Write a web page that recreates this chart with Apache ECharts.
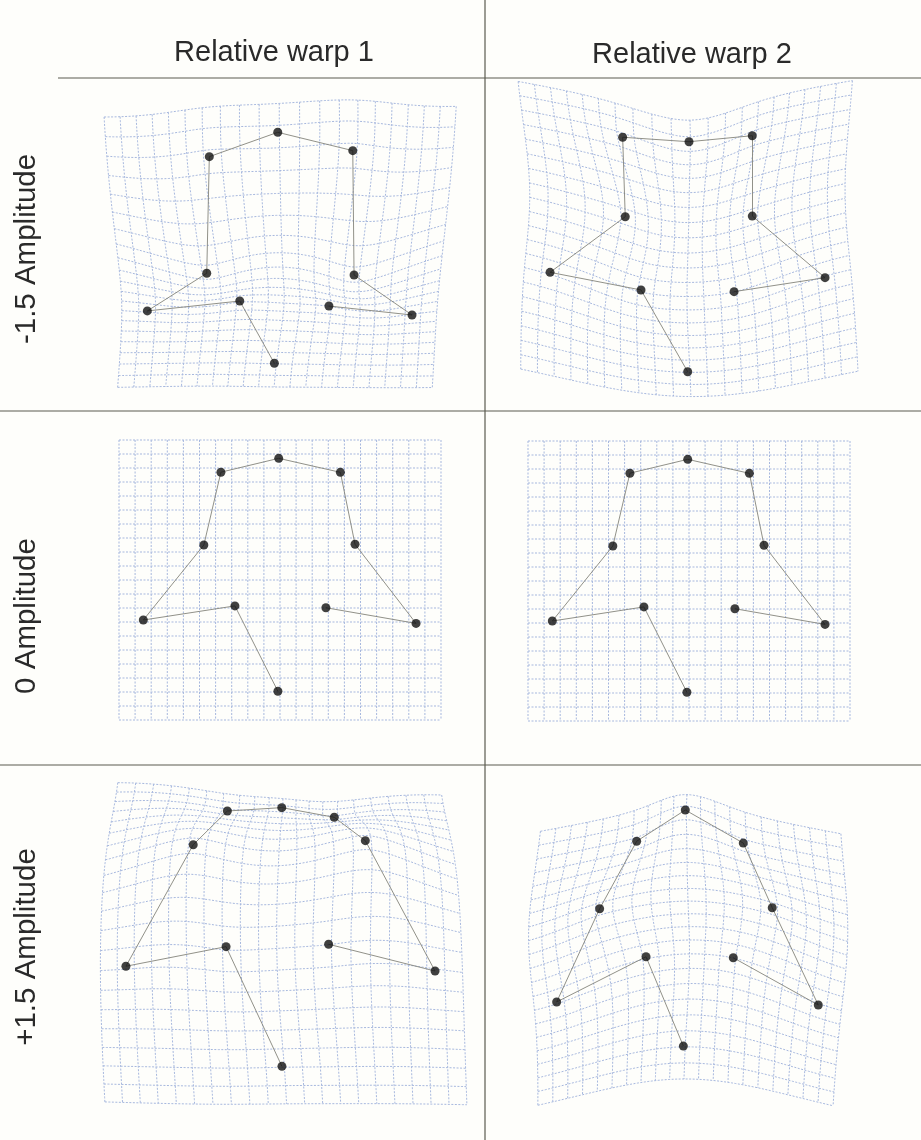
<!DOCTYPE html>
<html>
<head>
<meta charset="utf-8">
<script src="https://cdn.jsdelivr.net/npm/echarts@6/dist/echarts.min.js"></script>
<style>
  html, body { margin: 0; padding: 0; background: #fefefb; }
  #chart { width: 921px; height: 1140px; }
</style>
</head>
<body>
<div id="chart"></div>
<script>
// Landmark order: top centre, top left, top right, mid left, mid right,
// lower left, lower inner left, lower inner right, lower right, bottom.
const consensusX = [9.92, 6.33, 13.75, 5.27, 14.66, 1.51, 7.20, 12.85, 18.45, 9.87];
const consensusY = [1.31, 2.30, 2.31, 7.50, 7.45, 12.86, 11.85, 11.98, 13.10, 17.95];

const rw1MinusX = [9.86, 5.61, 14.52, 5.45, 14.60, 1.76, 7.50, 13.04, 18.20, 9.65];
const rw1MinusY = [1.95, 3.69, 3.26, 12.02, 12.14, 14.71, 14.00, 14.36, 15.00, 18.45];
const rw1PlusX  = [10.11, 6.73, 13.37, 4.61, 15.30, 0.43, 6.65, 13.02, 19.63, 10.12];
const rw1PlusY  = [1.26, 1.50, 1.95, 3.91, 3.62, 12.59, 11.19, 11.02, 12.93, 19.74];

const rw2MinusX = [10.00, 5.88, 13.93, 6.04, 13.93, 1.37, 7.02, 12.80, 18.45, 9.92];
const rw2MinusY = [2.98, 2.66, 2.55, 8.34, 8.29, 12.31, 13.57, 13.69, 12.69, 19.41];
const rw2PlusX  = [9.77, 6.75, 13.37, 4.45, 15.17, 1.78, 7.33, 12.75, 18.03, 9.65];
const rw2PlusY  = [1.43, 3.66, 3.79, 8.48, 8.41, 15.14, 11.91, 11.98, 15.36, 18.29];

// Outline links between landmarks (pairs of indices)
const links = [[1, 0], [0, 2], [1, 3], [3, 5], [5, 6], [6, 9], [2, 4], [4, 8], [8, 7]];

const columnTitles = ['Relative warp 1', 'Relative warp 2'];
const rowTitles = ['-1.5 Amplitude', '0 Amplitude', '+1.5 Amplitude'];

// Reference grid: 20 x 20 cells in landmark units
const gridCells = 20;

// Panel data: [row][col] -> target landmark configuration
const panelTargets = [
  [[rw1MinusX, rw1MinusY], [rw2MinusX, rw2MinusY]],
  [[consensusX, consensusY], [consensusX, consensusY]],
  [[rw1PlusX, rw1PlusY], [rw2PlusX, rw2PlusY]]
];

// ---------- layout ----------
const CELL_W = 16.1, CELL_H = 14;
const colLeft = [119, 528];
const rowTop = [[105, 100], [440, 441], [790, 790]];

// ---------- thin-plate spline ----------
function tpsU(r2) { return r2 === 0 ? 0 : r2 * Math.log(r2); }

function solveLinear(A, b) {
  const n = b.length;
  const M = A.map((row, i) => row.concat([b[i]]));
  for (let c = 0; c < n; c++) {
    let p = c;
    for (let r = c + 1; r < n; r++) if (Math.abs(M[r][c]) > Math.abs(M[p][c])) p = r;
    [M[c], M[p]] = [M[p], M[c]];
    for (let r = c + 1; r < n; r++) {
      const f = M[r][c] / M[c][c];
      for (let k = c; k <= n; k++) M[r][k] -= f * M[c][k];
    }
  }
  const x = new Array(n).fill(0);
  for (let r = n - 1; r >= 0; r--) {
    let s = M[r][n];
    for (let k = r + 1; k < n; k++) s -= M[r][k] * x[k];
    x[r] = s / M[r][r];
  }
  return x;
}

function makeTps(srcX, srcY, dstX, dstY) {
  // work in a space where both axes share the same physical scale
  const ax = CELL_W / CELL_H;
  const n = srcX.length;
  const P = srcX.map((x, i) => [x * ax, srcY[i]]);
  const size = n + 3;
  const L = [];
  for (let i = 0; i < size; i++) L.push(new Array(size).fill(0));
  for (let i = 0; i < n; i++) {
    for (let j = 0; j < n; j++) {
      const dx = P[i][0] - P[j][0], dy = P[i][1] - P[j][1];
      L[i][j] = tpsU(dx * dx + dy * dy);
    }
    L[i][n] = 1; L[i][n + 1] = P[i][0]; L[i][n + 2] = P[i][1];
    L[n][i] = 1; L[n + 1][i] = P[i][0]; L[n + 2][i] = P[i][1];
  }
  const bx = dstX.map(v => v * ax).concat([0, 0, 0]);
  const by = dstY.concat([0, 0, 0]);
  const wx = solveLinear(L, bx);
  const wy = solveLinear(L, by);
  return function (u, v) {
    const X = u * ax, Y = v;
    let fx = wx[n] + wx[n + 1] * X + wx[n + 2] * Y;
    let fy = wy[n] + wy[n + 1] * X + wy[n + 2] * Y;
    for (let i = 0; i < n; i++) {
      const dx = X - P[i][0], dy = Y - P[i][1];
      const k = tpsU(dx * dx + dy * dy);
      fx += wx[i] * k; fy += wy[i] * k;
    }
    return [fx / ax, fy];
  };
}

function warpedGridLines(warp) {
  const lines = [];
  const step = 0.25;
  for (let i = 0; i <= gridCells; i++) {
    const vLine = [], hLine = [];
    for (let t = 0; t <= gridCells + 1e-9; t += step) {
      vLine.push(warp(i, t));
      hLine.push(warp(t, i));
    }
    lines.push({ coords: vLine }, { coords: hLine });
  }
  return lines;
}

// ---------- build option ----------
const grids = [], xAxes = [], yAxes = [], series = [];
let idx = 0;
for (let r = 0; r < 3; r++) {
  for (let c = 0; c < 2; c++) {
    const [tx, ty] = panelTargets[r][c];
    grids.push({
      left: colLeft[c], top: rowTop[r][c],
      width: gridCells * CELL_W, height: gridCells * CELL_H,
      containLabel: false
    });
    xAxes.push({ gridIndex: idx, type: 'value', min: 0, max: gridCells, show: false });
    yAxes.push({ gridIndex: idx, type: 'value', min: 0, max: gridCells, inverse: true, show: false });

    const warp = makeTps(consensusX, consensusY, tx, ty);
    series.push({
      type: 'lines',
      coordinateSystem: 'cartesian2d',
      xAxisIndex: idx, yAxisIndex: idx,
      polyline: true,
      clip: false,
      silent: true,
      lineStyle: { color: '#a2b4dc', width: 1, type: [2, 1.5], opacity: 0.95 },
      data: warpedGridLines(warp),
      z: 1
    });
    series.push({
      type: 'lines',
      coordinateSystem: 'cartesian2d',
      xAxisIndex: idx, yAxisIndex: idx,
      clip: false,
      silent: true,
      lineStyle: { color: '#85857c', width: 0.9, opacity: 1 },
      data: links.map(([a, b]) => ({ coords: [[tx[a], ty[a]], [tx[b], ty[b]]] })),
      z: 2
    });
    series.push({
      type: 'scatter',
      xAxisIndex: idx, yAxisIndex: idx,
      clip: false,
      silent: true,
      symbol: 'circle',
      symbolSize: 9,
      itemStyle: { color: '#101010' },
      data: tx.map((x, i) => [x, ty[i]]),
      z: 3
    });
    idx++;
  }
}

const FONT = '"Liberation Sans", Arial, Helvetica, sans-serif';
const ruleColor = '#5a5a50';
const graphic = [
  { type: 'line', shape: { x1: 485, y1: 0, x2: 485, y2: 1140 }, style: { stroke: ruleColor, lineWidth: 1.2 } },
  { type: 'line', shape: { x1: 58, y1: 78, x2: 921, y2: 78 }, style: { stroke: ruleColor, lineWidth: 1.2 } },
  { type: 'line', shape: { x1: 0, y1: 411, x2: 921, y2: 411 }, style: { stroke: ruleColor, lineWidth: 1.2 } },
  { type: 'line', shape: { x1: 0, y1: 765, x2: 921, y2: 765 }, style: { stroke: ruleColor, lineWidth: 1.2 } },
  { type: 'text', x: 274, y: 53, style: { text: columnTitles[0], font: '29px ' + FONT, fill: '#2a2a2a', align: 'center', verticalAlign: 'middle' } },
  { type: 'text', x: 692, y: 55, style: { text: columnTitles[1], font: '29px ' + FONT, fill: '#2a2a2a', align: 'center', verticalAlign: 'middle' } }
];
const rowCenters = [249, 616, 947];
rowTitles.forEach((t, i) => {
  graphic.push({
    type: 'text', x: 27, y: rowCenters[i], rotation: Math.PI / 2,
    style: { text: t, font: '29.5px ' + FONT, fill: '#2a2a2a', align: 'center', verticalAlign: 'middle' }
  });
});

const chart = echarts.init(document.getElementById('chart'), null, { renderer: 'canvas' });
chart.setOption({
  backgroundColor: '#fefefb',
  animation: false,
  grid: grids,
  xAxis: xAxes,
  yAxis: yAxes,
  series: series,
  graphic: graphic
});
</script>
</body>
</html>
